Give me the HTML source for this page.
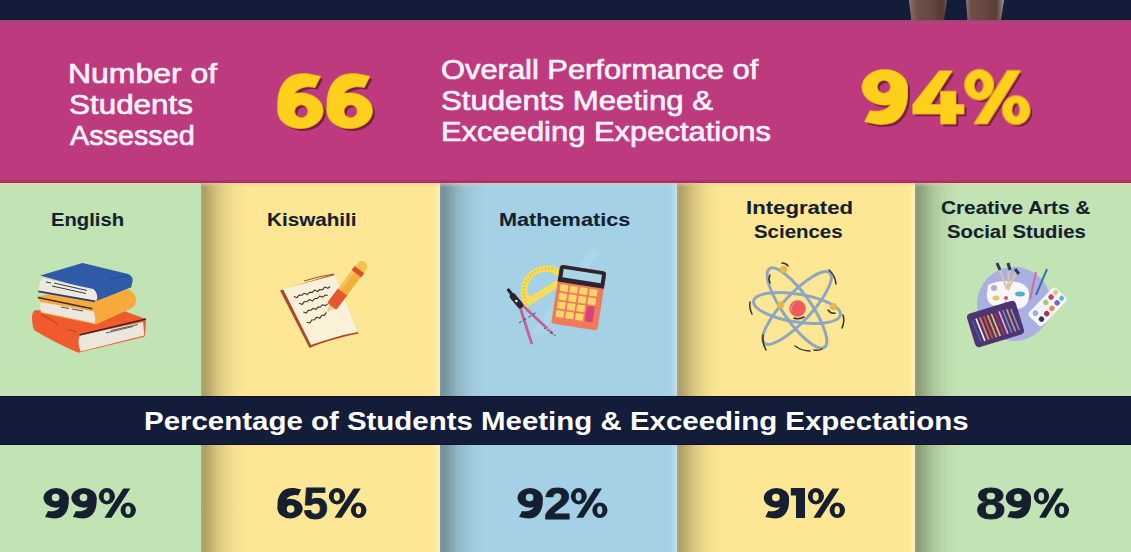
<!DOCTYPE html>
<html><head><meta charset="utf-8">
<style>
*{margin:0;padding:0;box-sizing:border-box}
html,body{width:1131px;height:552px;overflow:hidden;background:#131c38}
body{position:relative;font-family:"Liberation Sans",sans-serif}
.a{position:absolute}
.col{position:absolute}
.sh{position:absolute;top:0;bottom:0;left:0;width:46px;background:linear-gradient(to right,rgba(30,45,40,.34) 0,rgba(40,35,20,.37) 3px,rgba(40,35,20,.33) 6px,rgba(40,35,20,.26) 11px,rgba(40,35,20,.17) 17px,rgba(40,35,20,.09) 25px,rgba(40,35,20,.03) 34px,rgba(40,35,20,0) 46px)}
.lt{position:absolute;top:0;bottom:0;right:0;width:7px;background:linear-gradient(to right,rgba(255,255,255,0),rgba(255,255,255,.35))}
.t{position:absolute;white-space:nowrap;transform-origin:0 0;line-height:1}
.w{color:#fff2fb;font-weight:normal;-webkit-text-stroke:0.65px #fff2fb}
.wt{color:#ffffff;font-weight:bold}
.d{color:#151f30;font-weight:bold;-webkit-text-stroke:0.1px #151f30}
.p{color:#151f30;font-weight:bold;-webkit-text-stroke:0.8px #151f30}
.y{color:#fdd01c;font-weight:bold;-webkit-text-stroke:2.4px #fdd01c;text-shadow:3px 3px 0 #76213f}
svg{position:absolute;overflow:visible}
</style></head>
<body>
<div class="a" style="left:0;top:0;width:1131px;height:20px;background:#131c38"></div>
<div class="a" style="left:0;top:18px;width:1131px;height:2px;background:linear-gradient(to bottom,#161a34,#24102c)"></div>
<div class="a" style="left:909px;top:0;width:38px;height:20px;clip-path:polygon(0 0,100% 0,92% 100%,6% 100%);background:linear-gradient(to right,#9a8c88 0,#80685f 6%,#6e4e46 25%,#664640 60%,#553830 88%,#6a5a58 100%)"></div>
<div class="a" style="left:966px;top:0;width:38px;height:20px;clip-path:polygon(0 0,100% 0,92% 100%,4% 100%);background:linear-gradient(to right,#8a7c78 0,#6e5048 12%,#684840 45%,#5a3e36 80%,#7a6c6a 92%,#a0a0a0 100%)"></div>
<div class="a" style="left:0;top:20px;width:1131px;height:163px;background:#bd3a7e"></div>

<div class="a" style="left:0;top:20px;width:1131px;height:5px;background:linear-gradient(to bottom,rgba(110,80,110,.55),rgba(150,90,120,.35) 40%,rgba(190,58,126,0))"></div>
<div class="col" style="left:0;top:183px;width:201px;height:214px;background:#c2e3b3"></div>
<div class="col" style="left:201px;top:183px;width:239px;height:214px;background:#fde794"><div class="sh"></div><div class="lt"></div></div>
<div class="col" style="left:440px;top:183px;width:237px;height:214px;background:#a4d1e6"><div class="sh"></div><div class="lt"></div></div>
<div class="col" style="left:677px;top:183px;width:238px;height:214px;background:#fde794"><div class="sh"></div><div class="lt"></div></div>
<div class="col" style="left:915px;top:183px;width:216px;height:214px;background:#c2e3b3"><div class="sh"></div></div>

<div class="a" style="left:0;top:180px;width:1131px;height:3px;background:linear-gradient(to bottom,rgba(130,45,75,.25),rgba(150,50,70,.75))"></div>
<div class="a" style="left:0;top:183px;width:1131px;height:4px;background:linear-gradient(to bottom,rgba(250,195,170,.6),rgba(255,220,200,0))"></div>
<div class="a" style="left:0;top:396px;width:1131px;height:49px;background:#131c38;border-top:1px solid #0c1020;border-bottom:1px solid #101428"></div>

<div class="col" style="left:0;top:445px;width:201px;height:107px;background:#c2e3b3"></div>
<div class="col" style="left:201px;top:445px;width:239px;height:107px;background:#fde794"><div class="sh"></div><div class="lt"></div></div>
<div class="col" style="left:440px;top:445px;width:237px;height:107px;background:#a4d1e6"><div class="sh"></div><div class="lt"></div></div>
<div class="col" style="left:677px;top:445px;width:238px;height:107px;background:#fde794"><div class="sh"></div><div class="lt"></div></div>
<div class="col" style="left:915px;top:445px;width:216px;height:107px;background:#c2e3b3"><div class="sh"></div></div>

<!-- books -->
<svg style="left:25px;top:255px" width="130" height="105" viewBox="0 0 130 105">
 <!-- red book -->
 <path d="M9.5,55.3 L99,55.9 L121,64 L120,80 L119.3,81.8 L53.3,97.7 Q30,88 9,75 Q6,66 7.4,58.8 Z" fill="#ef5a2e"/>
 <path d="M54.5,80.6 L118.1,67.1 L119.3,80.6 L55.6,96.5 Q52,88 54.5,80.6 Z" fill="#ece6dc"/>
 <path d="M54.5,80 L121,64" stroke="#3e2424" stroke-width="1.3"/>
 <path d="M17,59.5 L33,69 M43,74 L52,77.5" stroke="#b5401e" stroke-width="1"/>
 <path d="M81,78 L108,71.5 M86,75.5 L113,69.5" stroke="#4a4a55" stroke-width="0.9"/>
 <!-- orange book -->
 <path d="M12.3,41.9 L60,30 L102,34 Q112,38 111,47 Q110,52 105,54.1 L71,69.4 L16.2,58 Q14,52 15.6,47.1 Z" fill="#f6aa3c"/>
 <path d="M15.6,47.1 L68.6,56.5 Q71,62 69.8,68.3 L16.2,57.1 Q14,52 15.6,47.1 Z" fill="#ece6dc"/>
 <path d="M12.8,42.5 L67.3,53.8" stroke="#3b2e2a" stroke-width="1.4"/>
 <path d="M36,52 L44,53.5 M47,54 L58,56" stroke="#444" stroke-width="0.9"/>
 <!-- blue book -->
 <path d="M15.2,20.5 L57.5,7.9 L103.2,19.1 Q108.5,22 107.6,26 L106.2,32.2 L72.1,45.8 L70,36 Z" fill="#2f5aa8"/>
 <path d="M16.7,22.9 L68.2,34.1 Q73,38 72.1,43.9 L69.2,45.8 L13.8,36.1 Q14,28 16.7,22.9 Z" fill="#ede8e0"/>
 <path d="M13.3,36.3 L70,46.3" stroke="#2a3f7a" stroke-width="1.8"/>
 <path d="M21,27 L26,28 M29,28 L62,35.5 M27,31 L61,38.5" stroke="#3a3a44" stroke-width="1"/>
 <path d="M85,24 L103,20" stroke="#26498a" stroke-width="1.2"/>
</svg>
<!-- notebook & pen -->
<svg style="left:270px;top:255px" width="100" height="95" viewBox="0 0 100 95">
 <path d="M10,35.5 L64,19 L88.5,78.5 Q75,81 62,85 Q48,89 39.5,93 Z" fill="#a94a26"/>
 <path d="M13,34 L65,20 L88,77 Q76,79 63,83 Q49,87 41,90 Z" fill="#fbf0d8"/>
 <path d="M34,26 Q50,21 64,19" fill="none" stroke="#a94a26" stroke-width="1"/>
 <path d="M23.9,41.5 L27.0,42.7 L29.1,40.1 L31.9,40.3 L34.1,38.2 L37.3,39.6 L39.5,37.3 L42.3,37.4 L44.4,35.1 L47.6,36.5 L49.8,34.5 L52.7,34.7 L54.7,32.0 L57.8,33.2 L60.1,31.5" fill="none" stroke="#3a3030" stroke-width="1.1" stroke-linejoin="round"/>
 <path d="M29.1,48.3 L32.3,49.4 L34.3,46.7 L37.1,46.7 L39.3,44.6 L42.6,45.9 L44.7,43.5 L47.5,43.5 L49.6,41.0 L52.8,42.2 L55.0,40.2 L57.9,40.3" fill="none" stroke="#3a3030" stroke-width="1.1" stroke-linejoin="round"/>
 <path d="M33.4,57.0 L36.4,58.0 L38.2,55.4 L40.9,55.3 L42.9,53.3 L46.0,54.4 L47.9,52.1 L50.6,52.0 L52.5,49.7 L55.6,50.7 L57.6,48.8" fill="none" stroke="#3a3030" stroke-width="1.1" stroke-linejoin="round"/>
 <path d="M36.7,67.3 L40.0,68.0 L41.7,65.0 L44.6,64.7 L46.5,62.3 L49.9,63.1 L51.7,60.5 L54.5,60.1 L56.3,57.4" fill="none" stroke="#3a3030" stroke-width="1.1" stroke-linejoin="round"/>
 <g transform="translate(57.5,57) rotate(-53)">
  <path d="M0,0 L9,-4.5 L9,4.5 Z" fill="#f0c890"/>
  <rect x="7" y="-5.8" width="20" height="11.6" rx="2" fill="#e4572e"/>
  <rect x="25" y="-5.6" width="29" height="11.2" fill="#f4ae3a"/>
  <rect x="25" y="-5.6" width="29" height="3.2" fill="#f7c25a"/>
  <rect x="48" y="-6" width="5.5" height="12" fill="#d9502a"/>
  <path d="M53,-5.6 L60,-5 Q65,0 60,5 L53,5.6 Z" fill="#f6c04c"/>
 </g>
</svg>
<!-- math -->
<svg style="left:500px;top:250px" width="110" height="100" viewBox="0 0 110 100">
 <path d="M32,82 L92,-2 L99,3 L40,87 Z" fill="#c4e6f4" opacity="0.25"/>
 <g transform="translate(47,42) rotate(-31.8)">
  <path d="M-26.5,0 A26.5,26.5 0 0 1 26.5,0 L26.5,2 L-26.5,2 Z M-17,-5 A17,15.5 0 0 1 17,-5 Z" fill="#f5dc5a" fill-rule="evenodd"/>
  <path d="M-23.5,0 A23.5,23.5 0 0 1 23.5,0" fill="none" stroke="#d8b03a" stroke-width="2.4" stroke-dasharray="0.8 2.6"/>
 </g>
 <g transform="rotate(8.9 78.8 47.6)">
  <rect x="55.4" y="17.85" width="46.8" height="59.5" rx="3" fill="#ee7b5c"/>
  <path d="M55.4,35 L55.4,21 Q55.4,17.85 58.5,17.85 L99,17.85 Q102.2,17.85 102.2,21 L102.2,35 Z" fill="#2e2430"/>
  <rect x="59.4" y="21.5" width="38.8" height="8.5" fill="#a9d5e6"/>
  <g fill="#fcd56a">
   <rect x="58.8" y="37" width="8" height="7" rx="1"/><rect x="68.6" y="37" width="8" height="7" rx="1"/><rect x="78.4" y="37" width="8" height="7" rx="1"/><rect x="88.2" y="37" width="8" height="7" rx="1"/>
   <rect x="58.8" y="45.7" width="8" height="7" rx="1"/><rect x="68.6" y="45.7" width="8" height="7" rx="1"/><rect x="78.4" y="45.7" width="8" height="7" rx="1"/><rect x="88.2" y="45.7" width="8" height="7" rx="1"/>
   <rect x="58.8" y="54.4" width="8" height="7" rx="1"/><rect x="68.6" y="54.4" width="8" height="7" rx="1"/><rect x="78.4" y="54.4" width="8" height="7" rx="1"/>
   <rect x="58.8" y="63.1" width="8" height="7" rx="1"/><rect x="68.6" y="63.1" width="8" height="7" rx="1"/><rect x="78.4" y="63.1" width="8" height="7" rx="1"/>
  </g>
  <rect x="88.2" y="54.4" width="8" height="15.7" rx="1" fill="#d8437c"/>
 </g>
 <path d="M19,54 L31.5,93" stroke="#c0609d" stroke-width="2.8" stroke-linecap="round"/>
 <path d="M21,54 L52,83" stroke="#c0609d" stroke-width="2.8" stroke-linecap="round"/>
 <path d="M8.5,40 L13,46" stroke="#2e2430" stroke-width="3.2" stroke-linecap="round"/>
 <path d="M13,46.5 L20,55" stroke="#2e2430" stroke-width="6.5" stroke-linecap="round"/>
 <circle cx="16.4" cy="51" r="1.3" fill="#eee"/>
 <path d="M19,73 L37,62" stroke="#2e2430" stroke-width="0.8" stroke-dasharray="3 2.5"/>
 <path d="M44,78 L56,86" stroke="#2e2430" stroke-width="0.8" stroke-dasharray="2 2"/>
 <circle cx="47.5" cy="80.5" r="1.8" fill="none" stroke="#d8e4f0" stroke-width="0.7"/>
</svg>
<!-- atom -->
<svg style="left:740px;top:255px" width="110" height="100" viewBox="0 0 110 100">
 <g fill="none" stroke="#8ea6c0" stroke-width="3">
  <ellipse cx="57" cy="53" rx="44" ry="14" transform="rotate(9 57 53)"/>
  <ellipse cx="57" cy="53" rx="48" ry="14" transform="rotate(55 57 53)"/>
  <ellipse cx="57" cy="53" rx="48" ry="14" transform="rotate(-47 57 53)"/>
 </g>
 <circle cx="57.6" cy="53.5" r="8.2" fill="#ee5b5b" stroke="#d9a0a0" stroke-width="0.8"/>
 <path d="M52,56 A6,6 0 0 1 55,48" fill="none" stroke="#f7a0a0" stroke-width="1"/>
 <g fill="#e8b54c">
  <circle cx="43.5" cy="14.5" r="3.6"/><circle cx="40.8" cy="49.8" r="3.6"/><circle cx="93.3" cy="51.6" r="3.6"/>
 </g>
 <g fill="none" stroke="#3e3020" stroke-width="1.5" stroke-linecap="round">
  <path d="M30,20 Q28,24 30,28"/><path d="M42,8 Q46,8 48,11"/><path d="M89,15 Q95,20 96,29"/>
  <path d="M10,47 Q9,53 12,59"/><path d="M103,60 Q105,66 102,73"/><path d="M23,80 Q22,88 26,95"/>
  <path d="M55,91 Q62,96 70,96"/><path d="M74,95 Q79,96 82,94"/><path d="M54,63 Q58,65 64,62"/><path d="M88,55 Q91,59 95,58"/>
 </g>
</svg>
<!-- arts -->
<svg style="left:960px;top:255px" width="110" height="100" viewBox="0 0 110 100">
 <circle cx="54" cy="49" r="37" fill="#aab0e2"/>
 <path d="M28,30 Q40,24 56,27 Q70,29 69,42 Q68,52 58,54 Q50,54 46,46 Q40,52 32,50 Q26,46 27,38 Z" fill="#f8f6f8"/>
 <circle cx="34" cy="33" r="3" fill="#b7a9d6"/>
 <ellipse cx="36" cy="43" rx="3.5" ry="2.5" fill="#e8c46a"/>
 <ellipse cx="60" cy="39" rx="5" ry="2.5" fill="#58afc2"/>
 <circle cx="46" cy="43" r="2" fill="#d8506a"/>
 <path d="M38,10 L47,34 M49,9 L48,34 M57,15 L48,35" stroke="#d9c2a8" stroke-width="2.2"/>
 <path d="M37,8 L40,15 M48,8 L50,15 M55,14 L59,19" stroke="#2e3a5a" stroke-width="3"/>
 <path d="M76,17 L70,44" stroke="#d8689a" stroke-width="2"/>
 <path d="M87,14 L76,40" stroke="#3d6fb8" stroke-width="2"/>
 <g transform="translate(87.5,51.8) rotate(-46)">
  <rect x="-19.5" y="-9.5" width="39" height="19" rx="3.5" fill="#f6f5fb"/>
  <circle cx="-13" cy="-4.2" r="2.7" fill="#a8a8d8"/><circle cx="-5.5" cy="-4.2" r="2.7" fill="#f0f0f8"/><circle cx="2" cy="-4.2" r="2.7" fill="#a8c878"/><circle cx="9.5" cy="-4.2" r="2.7" fill="#c8407a"/><circle cx="16" cy="-4.2" r="2.5" fill="#e8c46a"/>
  <circle cx="-13" cy="4.2" r="2.7" fill="#3a3060"/><circle cx="-5.5" cy="4.2" r="2.7" fill="#a83060"/><circle cx="2" cy="4.2" r="2.7" fill="#e88a50"/><circle cx="9.5" cy="4.2" r="2.7" fill="#7468b8"/><circle cx="16" cy="4.2" r="2.5" fill="#5ab8d0"/>
 </g>
 <g transform="translate(35.5,69) rotate(-17)">
  <rect x="-25.5" y="-17.5" width="51" height="35" rx="4" fill="#4e3472"/>
  <g stroke-width="1.7">
   <path d="M-19,13 L-21,-10" stroke="#3d5ca8"/><path d="M-15,13 L-17,-11" stroke="#f4f0f0"/><path d="M-11,13 L-13,-11" stroke="#e88a50"/>
   <path d="M-7,13 L-9,-11" stroke="#d9502a"/><path d="M-3,13 L-5,-11" stroke="#f0a040"/><path d="M1,13 L-1,-11" stroke="#e8c46a"/>
   <path d="M5,13 L3,-11" stroke="#a83060"/><path d="M9,13 L7,-11" stroke="#e0b0d0"/><path d="M13,13 L11,-11" stroke="#6a8ac8"/>
   <path d="M17,13 L15,-11" stroke="#c8a070"/><path d="M21,13 L19,-10" stroke="#8090a8"/>
  </g>
 </g>
</svg>
<!-- digit 1 -->
<svg style="left:790px;top:487px" width="16" height="32" viewBox="0 0 16 32"><path d="M6,1 L15,1 L15,31 L6,31 L6,8.5 L0.8,8.5 L0.8,1 Z" fill="#151f30"/></svg>
<!-- percent signs -->
<svg style="left:97.99px;top:488px" width="40" height="31" viewBox="0 0 40 31"><g transform="scale(1.0164,1)"><path fill="#151f30" fill-rule="evenodd" d="M0.80,8.20 a7.95,8.2 0 1,0 15.90,0 a7.95,8.2 0 1,0 -15.90,0 Z M5.60,8.60 a2.95,4.3 0 1,0 5.90,0 a2.95,4.3 0 1,0 -5.90,0 Z M22.20,22.35 a7.55,7.75 0 1,0 15.10,0 a7.55,7.75 0 1,0 -15.10,0 Z M27.00,22.15 a2.6,4.15 0 1,0 5.20,0 a2.6,4.15 0 1,0 -5.20,0 Z M24.9,0.5 L31.8,0.5 L13.2,29.7 L6.3,29.7 Z"/></g></svg>
<svg style="left:328.38px;top:488px" width="40" height="31" viewBox="0 0 40 31"><g transform="scale(1.0301,1)"><path fill="#151f30" fill-rule="evenodd" d="M0.80,8.20 a7.95,8.2 0 1,0 15.90,0 a7.95,8.2 0 1,0 -15.90,0 Z M5.60,8.60 a2.95,4.3 0 1,0 5.90,0 a2.95,4.3 0 1,0 -5.90,0 Z M22.20,22.35 a7.55,7.75 0 1,0 15.10,0 a7.55,7.75 0 1,0 -15.10,0 Z M27.00,22.15 a2.6,4.15 0 1,0 5.20,0 a2.6,4.15 0 1,0 -5.20,0 Z M24.9,0.5 L31.8,0.5 L13.2,29.7 L6.3,29.7 Z"/></g></svg>
<svg style="left:570.20px;top:488px" width="40" height="31" viewBox="0 0 40 31"><g transform="scale(1.0055,1)"><path fill="#151f30" fill-rule="evenodd" d="M0.80,8.20 a7.95,8.2 0 1,0 15.90,0 a7.95,8.2 0 1,0 -15.90,0 Z M5.60,8.60 a2.95,4.3 0 1,0 5.90,0 a2.95,4.3 0 1,0 -5.90,0 Z M22.20,22.35 a7.55,7.75 0 1,0 15.10,0 a7.55,7.75 0 1,0 -15.10,0 Z M27.00,22.15 a2.6,4.15 0 1,0 5.20,0 a2.6,4.15 0 1,0 -5.20,0 Z M24.9,0.5 L31.8,0.5 L13.2,29.7 L6.3,29.7 Z"/></g></svg>
<svg style="left:807.18px;top:488px" width="40" height="31" viewBox="0 0 40 31"><g transform="scale(1.0192,1)"><path fill="#151f30" fill-rule="evenodd" d="M0.80,8.20 a7.95,8.2 0 1,0 15.90,0 a7.95,8.2 0 1,0 -15.90,0 Z M5.60,8.60 a2.95,4.3 0 1,0 5.90,0 a2.95,4.3 0 1,0 -5.90,0 Z M22.20,22.35 a7.55,7.75 0 1,0 15.10,0 a7.55,7.75 0 1,0 -15.10,0 Z M27.00,22.15 a2.6,4.15 0 1,0 5.20,0 a2.6,4.15 0 1,0 -5.20,0 Z M24.9,0.5 L31.8,0.5 L13.2,29.7 L6.3,29.7 Z"/></g></svg>
<svg style="left:1032.93px;top:488px" width="40" height="31" viewBox="0 0 40 31"><g transform="scale(0.9671,1)"><path fill="#151f30" fill-rule="evenodd" d="M0.80,8.20 a7.95,8.2 0 1,0 15.90,0 a7.95,8.2 0 1,0 -15.90,0 Z M5.60,8.60 a2.95,4.3 0 1,0 5.90,0 a2.95,4.3 0 1,0 -5.90,0 Z M22.20,22.35 a7.55,7.75 0 1,0 15.10,0 a7.55,7.75 0 1,0 -15.10,0 Z M27.00,22.15 a2.6,4.15 0 1,0 5.20,0 a2.6,4.15 0 1,0 -5.20,0 Z M24.9,0.5 L31.8,0.5 L13.2,29.7 L6.3,29.7 Z"/></g></svg>
<!-- yellow numbers -->
<svg style="left:0;top:0" width="1131" height="183" viewBox="0 0 1131 183"><g fill="#76213f" transform="translate(2.6,2.6)"><g><path fill-rule="evenodd" d="M277.80,110.70 a22.6,17.6 0 1,0 45.20,0 a22.6,17.6 0 1,0 -45.20,0 Z M294.40,111.30 a6.9,6.7 0 1,0 13.80,0 a6.9,6.7 0 1,0 -13.80,0 Z"/><path d="M277.8,111 L277.8,102.8 C278,90 284,79 293,75.5 C298,73.8 303,73.5 308,74 L320.3,76.5 L314.9,87.2 C311,86.5 309,86.4 306.5,86.6 C300,87.5 296,90 294,94 C292.8,96.5 292.3,99 292.3,102 L292.3,111 Z"/></g><g transform="translate(49.3,0)"><path fill-rule="evenodd" d="M277.80,110.70 a22.6,17.6 0 1,0 45.20,0 a22.6,17.6 0 1,0 -45.20,0 Z M294.40,111.30 a6.9,6.7 0 1,0 13.80,0 a6.9,6.7 0 1,0 -13.80,0 Z"/><path d="M277.8,111 L277.8,102.8 C278,90 284,79 293,75.5 C298,73.8 303,73.5 308,74 L320.3,76.5 L314.9,87.2 C311,86.5 309,86.4 306.5,86.6 C300,87.5 296,90 294,94 C292.8,96.5 292.3,99 292.3,102 L292.3,111 Z"/></g><g transform="translate(884.75,97) rotate(180) translate(-300.4,-101.05)"><path fill-rule="evenodd" d="M277.80,110.70 a22.6,17.6 0 1,0 45.20,0 a22.6,17.6 0 1,0 -45.20,0 Z M294.40,111.30 a6.9,6.7 0 1,0 13.80,0 a6.9,6.7 0 1,0 -13.80,0 Z"/><path d="M277.8,111 L277.8,102.8 C278,90 284,79 293,75.5 C298,73.8 303,73.5 308,74 L320.3,76.5 L314.9,87.2 C311,86.5 309,86.4 306.5,86.6 C300,87.5 296,90 294,94 C292.8,96.5 292.3,99 292.3,102 L292.3,111 Z"/></g><path d="M939.4,70.9 L952,70.9 L930,104.8 L940.8,104.8 L940.8,91.5 L955.7,91.5 L955.7,104.8 L963.8,104.8 L963.8,113.7 L955.7,113.7 L955.7,123.8 L940.8,123.8 L940.8,113.7 L912.9,113.7 L912.9,104.8 Z"/><g transform="translate(963.79,70) scale(1.7616,1.7940)"><path fill-rule="evenodd" d="M0.80,8.20 a7.95,8.2 0 1,0 15.90,0 a7.95,8.2 0 1,0 -15.90,0 Z M5.60,8.60 a2.95,4.3 0 1,0 5.90,0 a2.95,4.3 0 1,0 -5.90,0 Z M22.20,22.35 a7.55,7.75 0 1,0 15.10,0 a7.55,7.75 0 1,0 -15.10,0 Z M27.00,22.15 a2.6,4.15 0 1,0 5.20,0 a2.6,4.15 0 1,0 -5.20,0 Z M24.9,0.5 L31.8,0.5 L13.2,29.7 L6.3,29.7 Z"/></g></g><g fill="#e39a2a" stroke="#e39a2a" stroke-width="1.4" stroke-linejoin="round"><g><path fill-rule="evenodd" d="M277.80,110.70 a22.6,17.6 0 1,0 45.20,0 a22.6,17.6 0 1,0 -45.20,0 Z M294.40,111.30 a6.9,6.7 0 1,0 13.80,0 a6.9,6.7 0 1,0 -13.80,0 Z"/><path d="M277.8,111 L277.8,102.8 C278,90 284,79 293,75.5 C298,73.8 303,73.5 308,74 L320.3,76.5 L314.9,87.2 C311,86.5 309,86.4 306.5,86.6 C300,87.5 296,90 294,94 C292.8,96.5 292.3,99 292.3,102 L292.3,111 Z"/></g><g transform="translate(49.3,0)"><path fill-rule="evenodd" d="M277.80,110.70 a22.6,17.6 0 1,0 45.20,0 a22.6,17.6 0 1,0 -45.20,0 Z M294.40,111.30 a6.9,6.7 0 1,0 13.80,0 a6.9,6.7 0 1,0 -13.80,0 Z"/><path d="M277.8,111 L277.8,102.8 C278,90 284,79 293,75.5 C298,73.8 303,73.5 308,74 L320.3,76.5 L314.9,87.2 C311,86.5 309,86.4 306.5,86.6 C300,87.5 296,90 294,94 C292.8,96.5 292.3,99 292.3,102 L292.3,111 Z"/></g><g transform="translate(884.75,97) rotate(180) translate(-300.4,-101.05)"><path fill-rule="evenodd" d="M277.80,110.70 a22.6,17.6 0 1,0 45.20,0 a22.6,17.6 0 1,0 -45.20,0 Z M294.40,111.30 a6.9,6.7 0 1,0 13.80,0 a6.9,6.7 0 1,0 -13.80,0 Z"/><path d="M277.8,111 L277.8,102.8 C278,90 284,79 293,75.5 C298,73.8 303,73.5 308,74 L320.3,76.5 L314.9,87.2 C311,86.5 309,86.4 306.5,86.6 C300,87.5 296,90 294,94 C292.8,96.5 292.3,99 292.3,102 L292.3,111 Z"/></g><path d="M939.4,70.9 L952,70.9 L930,104.8 L940.8,104.8 L940.8,91.5 L955.7,91.5 L955.7,104.8 L963.8,104.8 L963.8,113.7 L955.7,113.7 L955.7,123.8 L940.8,123.8 L940.8,113.7 L912.9,113.7 L912.9,104.8 Z"/><g transform="translate(963.79,70) scale(1.7616,1.7940)"><path fill-rule="evenodd" d="M0.80,8.20 a7.95,8.2 0 1,0 15.90,0 a7.95,8.2 0 1,0 -15.90,0 Z M5.60,8.60 a2.95,4.3 0 1,0 5.90,0 a2.95,4.3 0 1,0 -5.90,0 Z M22.20,22.35 a7.55,7.75 0 1,0 15.10,0 a7.55,7.75 0 1,0 -15.10,0 Z M27.00,22.15 a2.6,4.15 0 1,0 5.20,0 a2.6,4.15 0 1,0 -5.20,0 Z M24.9,0.5 L31.8,0.5 L13.2,29.7 L6.3,29.7 Z"/></g></g><g fill="#fdd01c"><g><path fill-rule="evenodd" d="M277.80,110.70 a22.6,17.6 0 1,0 45.20,0 a22.6,17.6 0 1,0 -45.20,0 Z M294.40,111.30 a6.9,6.7 0 1,0 13.80,0 a6.9,6.7 0 1,0 -13.80,0 Z"/><path d="M277.8,111 L277.8,102.8 C278,90 284,79 293,75.5 C298,73.8 303,73.5 308,74 L320.3,76.5 L314.9,87.2 C311,86.5 309,86.4 306.5,86.6 C300,87.5 296,90 294,94 C292.8,96.5 292.3,99 292.3,102 L292.3,111 Z"/></g><g transform="translate(49.3,0)"><path fill-rule="evenodd" d="M277.80,110.70 a22.6,17.6 0 1,0 45.20,0 a22.6,17.6 0 1,0 -45.20,0 Z M294.40,111.30 a6.9,6.7 0 1,0 13.80,0 a6.9,6.7 0 1,0 -13.80,0 Z"/><path d="M277.8,111 L277.8,102.8 C278,90 284,79 293,75.5 C298,73.8 303,73.5 308,74 L320.3,76.5 L314.9,87.2 C311,86.5 309,86.4 306.5,86.6 C300,87.5 296,90 294,94 C292.8,96.5 292.3,99 292.3,102 L292.3,111 Z"/></g><g transform="translate(884.75,97) rotate(180) translate(-300.4,-101.05)"><path fill-rule="evenodd" d="M277.80,110.70 a22.6,17.6 0 1,0 45.20,0 a22.6,17.6 0 1,0 -45.20,0 Z M294.40,111.30 a6.9,6.7 0 1,0 13.80,0 a6.9,6.7 0 1,0 -13.80,0 Z"/><path d="M277.8,111 L277.8,102.8 C278,90 284,79 293,75.5 C298,73.8 303,73.5 308,74 L320.3,76.5 L314.9,87.2 C311,86.5 309,86.4 306.5,86.6 C300,87.5 296,90 294,94 C292.8,96.5 292.3,99 292.3,102 L292.3,111 Z"/></g><path d="M939.4,70.9 L952,70.9 L930,104.8 L940.8,104.8 L940.8,91.5 L955.7,91.5 L955.7,104.8 L963.8,104.8 L963.8,113.7 L955.7,113.7 L955.7,123.8 L940.8,123.8 L940.8,113.7 L912.9,113.7 L912.9,104.8 Z"/><g transform="translate(963.79,70) scale(1.7616,1.7940)"><path fill-rule="evenodd" d="M0.80,8.20 a7.95,8.2 0 1,0 15.90,0 a7.95,8.2 0 1,0 -15.90,0 Z M5.60,8.60 a2.95,4.3 0 1,0 5.90,0 a2.95,4.3 0 1,0 -5.90,0 Z M22.20,22.35 a7.55,7.75 0 1,0 15.10,0 a7.55,7.75 0 1,0 -15.10,0 Z M27.00,22.15 a2.6,4.15 0 1,0 5.20,0 a2.6,4.15 0 1,0 -5.20,0 Z M24.9,0.5 L31.8,0.5 L13.2,29.7 L6.3,29.7 Z"/></g></g></svg>
<!-- bottom digits -->
<svg style="left:0;top:440px" width="1131" height="112" viewBox="0 440 1131 112"><g fill="#151f30"><g transform="translate(56.10,503.20) rotate(180) scale(0.5575) translate(-300.4,-101.05)"><path fill-rule="evenodd" d="M277.80,110.70 a22.6,17.6 0 1,0 45.20,0 a22.6,17.6 0 1,0 -45.20,0 Z M294.40,111.30 a6.9,6.7 0 1,0 13.80,0 a6.9,6.7 0 1,0 -13.80,0 Z"/><path d="M277.8,111 L277.8,102.8 C278,90 284,79 293,75.5 C298,73.8 303,73.5 308,74 L320.3,76.5 L314.9,87.2 C311,86.5 309,86.4 306.5,86.6 C300,87.5 296,90 294,94 C292.8,96.5 292.3,99 292.3,102 L292.3,111 Z"/></g><g transform="translate(84.00,503.20) rotate(180) scale(0.5575) translate(-300.4,-101.05)"><path fill-rule="evenodd" d="M277.80,110.70 a22.6,17.6 0 1,0 45.20,0 a22.6,17.6 0 1,0 -45.20,0 Z M294.40,111.30 a6.9,6.7 0 1,0 13.80,0 a6.9,6.7 0 1,0 -13.80,0 Z"/><path d="M277.8,111 L277.8,102.8 C278,90 284,79 293,75.5 C298,73.8 303,73.5 308,74 L320.3,76.5 L314.9,87.2 C311,86.5 309,86.4 306.5,86.6 C300,87.5 296,90 294,94 C292.8,96.5 292.3,99 292.3,102 L292.3,111 Z"/></g><g transform="translate(277.5,488) scale(0.5575) translate(-277.8,-73.8)"><path fill-rule="evenodd" d="M277.80,110.70 a22.6,17.6 0 1,0 45.20,0 a22.6,17.6 0 1,0 -45.20,0 Z M294.40,111.30 a6.9,6.7 0 1,0 13.80,0 a6.9,6.7 0 1,0 -13.80,0 Z"/><path d="M277.8,111 L277.8,102.8 C278,90 284,79 293,75.5 C298,73.8 303,73.5 308,74 L320.3,76.5 L314.9,87.2 C311,86.5 309,86.4 306.5,86.6 C300,87.5 296,90 294,94 C292.8,96.5 292.3,99 292.3,102 L292.3,111 Z"/></g><g transform="translate(530.10,503.20) rotate(180) scale(0.5575) translate(-300.4,-101.05)"><path fill-rule="evenodd" d="M277.80,110.70 a22.6,17.6 0 1,0 45.20,0 a22.6,17.6 0 1,0 -45.20,0 Z M294.40,111.30 a6.9,6.7 0 1,0 13.80,0 a6.9,6.7 0 1,0 -13.80,0 Z"/><path d="M277.8,111 L277.8,102.8 C278,90 284,79 293,75.5 C298,73.8 303,73.5 308,74 L320.3,76.5 L314.9,87.2 C311,86.5 309,86.4 306.5,86.6 C300,87.5 296,90 294,94 C292.8,96.5 292.3,99 292.3,102 L292.3,111 Z"/></g><g transform="translate(776.40,503.20) rotate(180) scale(0.5575) translate(-300.4,-101.05)"><path fill-rule="evenodd" d="M277.80,110.70 a22.6,17.6 0 1,0 45.20,0 a22.6,17.6 0 1,0 -45.20,0 Z M294.40,111.30 a6.9,6.7 0 1,0 13.80,0 a6.9,6.7 0 1,0 -13.80,0 Z"/><path d="M277.8,111 L277.8,102.8 C278,90 284,79 293,75.5 C298,73.8 303,73.5 308,74 L320.3,76.5 L314.9,87.2 C311,86.5 309,86.4 306.5,86.6 C300,87.5 296,90 294,94 C292.8,96.5 292.3,99 292.3,102 L292.3,111 Z"/></g><g transform="translate(1018.40,503.20) rotate(180) scale(0.5575) translate(-300.4,-101.05)"><path fill-rule="evenodd" d="M277.80,110.70 a22.6,17.6 0 1,0 45.20,0 a22.6,17.6 0 1,0 -45.20,0 Z M294.40,111.30 a6.9,6.7 0 1,0 13.80,0 a6.9,6.7 0 1,0 -13.80,0 Z"/><path d="M277.8,111 L277.8,102.8 C278,90 284,79 293,75.5 C298,73.8 303,73.5 308,74 L320.3,76.5 L314.9,87.2 C311,86.5 309,86.4 306.5,86.6 C300,87.5 296,90 294,94 C292.8,96.5 292.3,99 292.3,102 L292.3,111 Z"/></g></g></svg>


<div class="t w" style="left:67.63px;top:60.50px;font-size:27px;transform:scaleX(1.1829);">Number of</div>
<div class="t w" style="left:68.84px;top:91.50px;font-size:27px;transform:scaleX(1.1635);">Students</div>
<div class="t w" style="left:70.00px;top:122.70px;font-size:27px;transform:scaleX(1.0658);">Assessed</div>
<div class="t w" style="left:440.86px;top:57.00px;font-size:27px;transform:scaleX(1.1431);">Overall Performance of</div>
<div class="t w" style="left:440.85px;top:87.50px;font-size:27px;transform:scaleX(1.1545);">Students Meeting &amp;</div>
<div class="t w" style="left:441.21px;top:119.00px;font-size:27px;transform:scaleX(1.1451);">Exceeding Expectations</div>
<div class="t d" style="left:50.91px;top:211.00px;font-size:18.5px;transform:scaleX(1.0938);">English</div>
<div class="t d" style="left:266.88px;top:211.00px;font-size:18.5px;transform:scaleX(1.1169);">Kiswahili</div>
<div class="t d" style="left:499.13px;top:211.00px;font-size:18.5px;transform:scaleX(1.1716);">Mathematics</div>
<div class="t d" style="left:745.80px;top:198.50px;font-size:18.5px;transform:scaleX(1.1977);">Integrated</div>
<div class="t d" style="left:753.90px;top:223.00px;font-size:18.5px;transform:scaleX(1.1039);">Sciences</div>
<div class="t d" style="left:940.88px;top:198.50px;font-size:18.5px;transform:scaleX(1.1231);">Creative Arts &amp;</div>
<div class="t d" style="left:946.90px;top:223.00px;font-size:18.5px;transform:scaleX(1.0968);">Social Studies</div>
<div class="t wt" style="left:144.28px;top:408.00px;font-size:26.5px;transform:scaleX(1.1111);">Percentage of Students Meeting &amp; Exceeding Expectations</div>
<div class="t p" style="left:302.59px;top:481.80px;font-size:44px;transform:scaleX(1.0136);">5</div>
<div class="t p" style="left:543.80px;top:481.80px;font-size:44px;transform:scaleX(1.1048);">2</div>
<div class="t p" style="left:976.29px;top:481.80px;font-size:44px;transform:scaleX(1.2095);">8</div>
</body></html>
